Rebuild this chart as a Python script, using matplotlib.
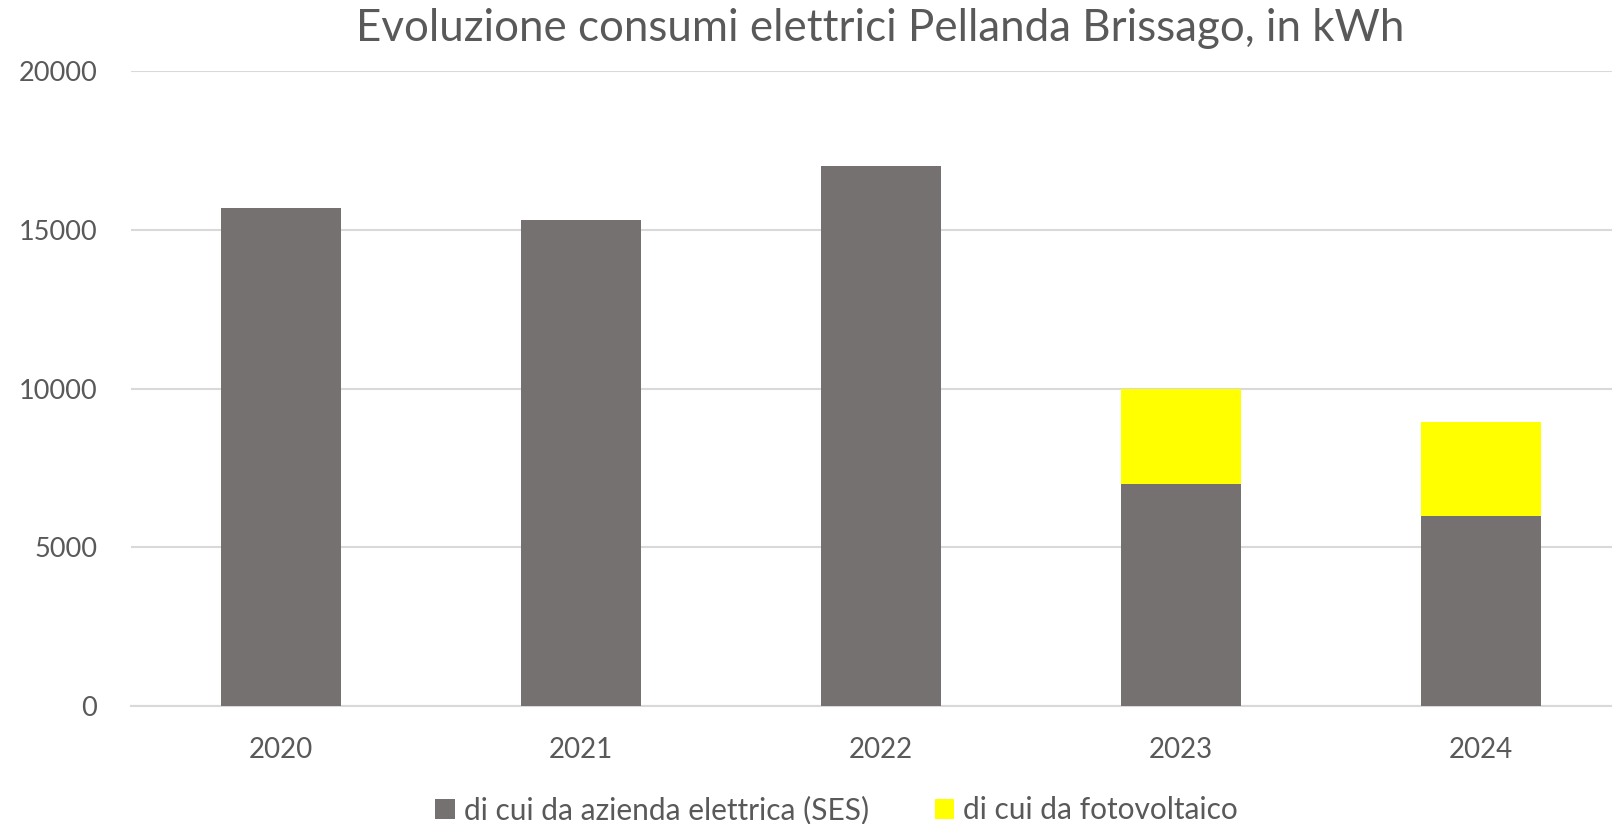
import matplotlib.pyplot as plt
import numpy as np

# dati (kWh)
anni = ['2020', '2021', '2022', '2023', '2024']
ses = [15700, 15300, 17000, 7000, 6000]
fotovoltaico = [0, 0, 0, 3000, 2950]
etichette = ['di cui da azienda elettrica (SES)', 'di cui da fotovoltaico']

plt.rcParams['font.family'] = ['Lato', 'DejaVu Sans']
testo = '#595959'

fig = plt.figure(figsize=(16.12, 8.24), dpi=100)
ax = fig.add_axes([0.081, 0.1432, 0.919, 0.7706])

x = np.arange(len(anni))
ax.bar(x, ses, width=0.4, color='#767171', label=etichette[0], zorder=3)
ax.bar(x, fotovoltaico, width=0.4, bottom=ses, color='#FFFF00', label=etichette[1], zorder=3)

ax.set_ylim(0, 20000)
ax.set_xlim(-0.5, 4.437)
ax.set_yticks([0, 5000, 10000, 15000, 20000])
ax.set_xticks(x)
ax.set_xticklabels(anni)
ax.grid(axis='y', color='#D9D9D9', linewidth=1.5, zorder=0)
for s in ['top', 'right', 'left']:
    ax.spines[s].set_visible(False)
ax.spines['bottom'].set_color('#D9D9D9')
ax.spines['bottom'].set_linewidth(1.5)
ax.tick_params(axis='both', length=0, colors=testo, labelsize=20)
ax.tick_params(axis='y', labelsize=19.5, pad=24)
ax.tick_params(axis='x', pad=22)

fig.text(0.546, 0.965, 'Evoluzione consumi elettrici Pellanda Brissago, in kWh',
         ha='center', va='center', fontsize=31.6, color=testo)

fig.legend(loc='center', bbox_to_anchor=(0.519, 0.017), ncol=2, frameon=False,
           fontsize=21.5, labelcolor=testo, handlelength=0.65, handleheight=0.65,
           handletextpad=0.3, columnspacing=2.2)

fig.savefig('out.png', dpi=100)
